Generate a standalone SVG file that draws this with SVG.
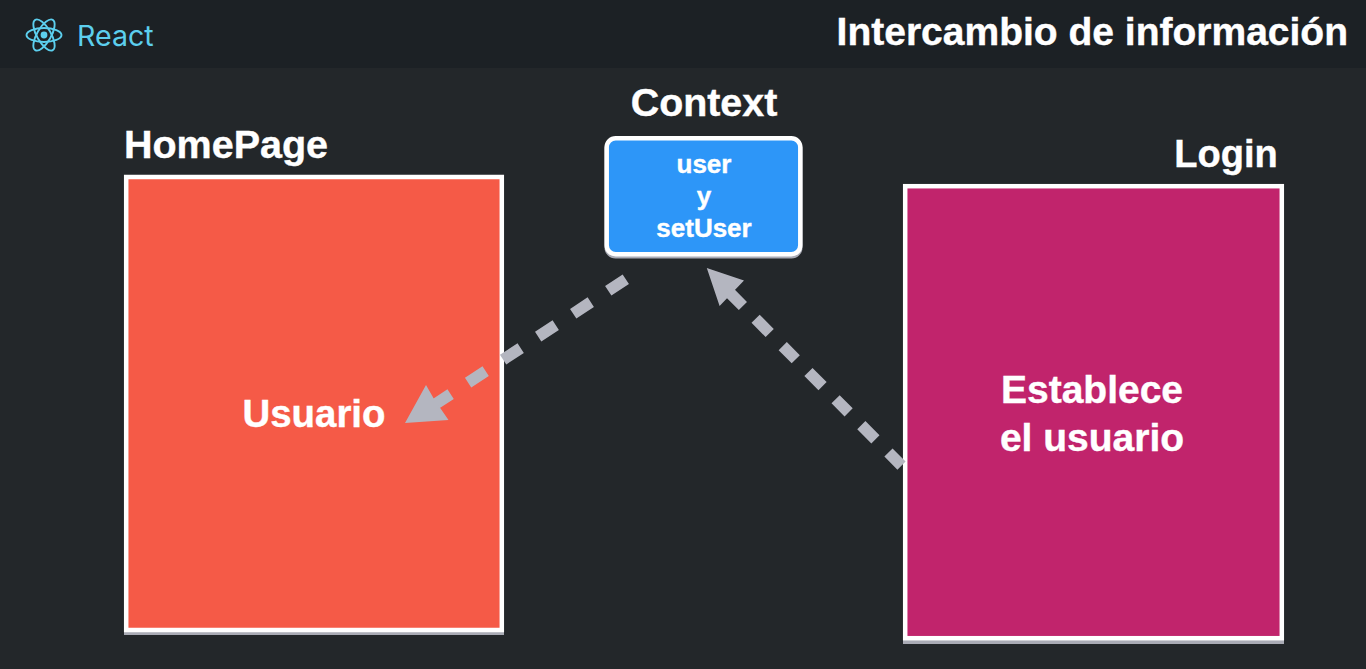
<svg xmlns="http://www.w3.org/2000/svg" width="1366" height="669" viewBox="0 0 1366 669">
<style>
text{font-family:"Liberation Sans",Arial,sans-serif;font-weight:700;fill:#fff;stroke:#fff;stroke-width:.4;text-anchor:middle}
.box{stroke:#fff;stroke-width:4.5}
.shadow{fill:#a9abb5}
.dash{fill:none;stroke:#b4b6c0;stroke-width:11.5}
.head{fill:#b4b6c0}
.logo{fill:none;stroke:#5ccfee;stroke-width:1.9}
</style>
<rect width="1366" height="669" fill="#23272a"/>
<rect width="1366" height="68" fill="#1c2125"/>
<g id="brand">
<g class="logo"><ellipse cx="44" cy="35" rx="17.5" ry="7"/><ellipse cx="44" cy="35" rx="17.5" ry="7" transform="rotate(60 44 35)"/><ellipse cx="44" cy="35" rx="17.5" ry="7" transform="rotate(120 44 35)"/></g>
<circle cx="44" cy="35" r="3.4" fill="#5ccfee"/>
<text x="77" y="46" font-size="28.6" style="font-family:Inter,'Liberation Sans',sans-serif;font-weight:400;fill:#5ccfee;stroke:none;text-anchor:start">React</text>
</g>
<text id="title" x="1348" y="45" font-size="39" style="text-anchor:end">Intercambio de información</text>
<g id="homepage">
<text x="226" y="158" font-size="39.5">HomePage</text>
<rect class="shadow" x="124" y="176" width="380" height="459"/>
<rect class="box" x="126.2" y="177" width="375.6" height="453" fill="#f55a47"/>
<text x="314" y="427" font-size="38.4">Usuario</text>
</g>
<g id="login">
<text x="1226" y="167" font-size="38">Login</text>
<rect class="shadow" x="903" y="186" width="381" height="458"/>
<rect class="box" x="905.2" y="186.2" width="376.6" height="452" fill="#c1246c"/>
<text x="1092" y="403" font-size="39">Establece</text>
<text x="1092" y="451" font-size="39">el usuario</text>
</g>
<g id="context">
<text x="704" y="116" font-size="39.4">Context</text>
<rect class="shadow" x="604.5" y="138" width="198" height="120.5" rx="11"/>
<rect class="box" x="606.7" y="138.2" width="193.6" height="116" rx="9" fill="#2d96f8"/>
<text x="704" y="173" font-size="26">user</text>
<text x="704" y="205" font-size="26">y</text>
<text x="704" y="237" font-size="26">setUser</text>
</g>
<g id="connectors">
<path class="dash" d="M625.8 279.2L434 405" stroke-dasharray="21 20.9"/>
<path class="head" d="M405 423L426 385L434 399L448.5 420Z"/>
<path class="dash" d="M901.5 465.6L728 291" stroke-dasharray="18.5 18.5 20 18"/>
<path class="head" d="M706.8 268L744 280.6L732 293L719.6 306Z"/>
</g>
</svg>
